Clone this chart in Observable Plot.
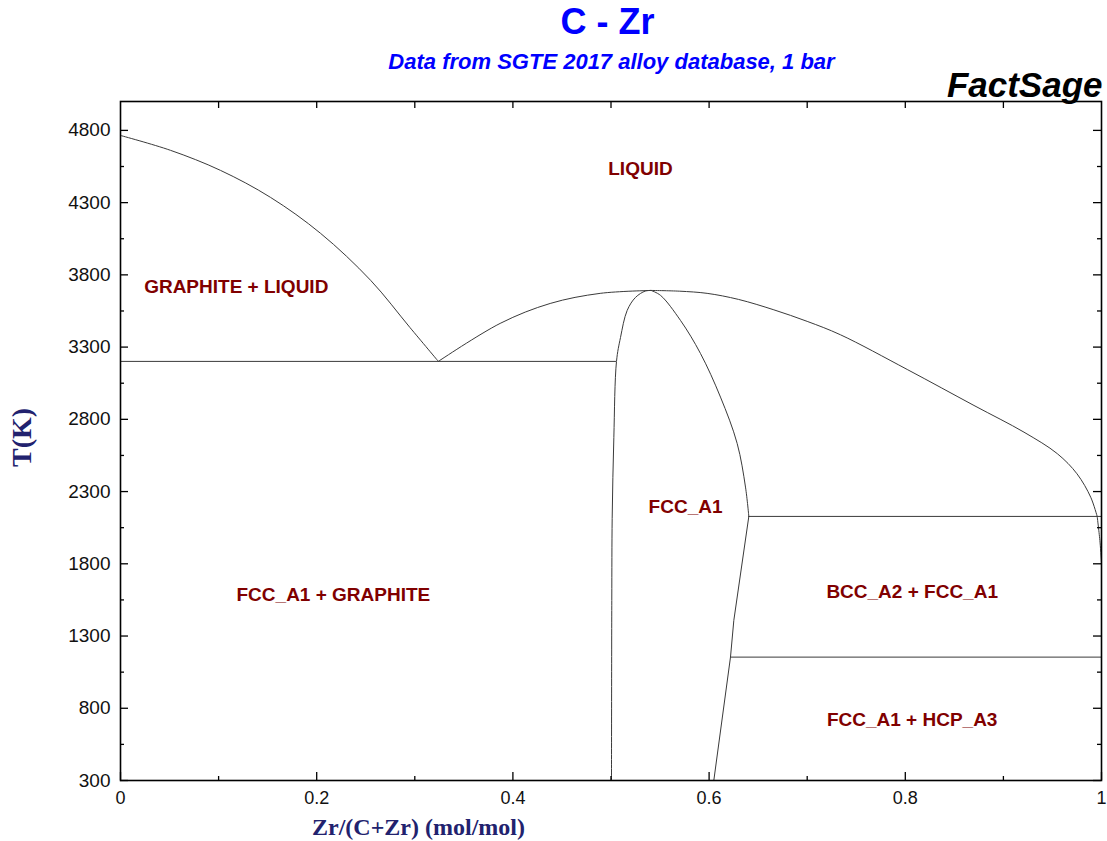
<!DOCTYPE html>
<html>
<head>
<meta charset="utf-8">
<script src="https://cdn.jsdelivr.net/npm/d3@7"></script>
<script src="https://cdn.jsdelivr.net/npm/@observablehq/plot@0.6"></script>
<style>
  body { margin: 0; background: #fff; }
  #chart svg { display: block; }
</style>
</head>
<body>
<div id="chart"></div>
<script>
// ---- data (x = Zr/(C+Zr) mol/mol, y = T in K) ----
const liquidusGraphite = [[0, 4765], [0.051, 4662], [0.102, 4523], [0.153, 4336], [0.204, 4087], [0.255, 3762], [0.295, 3436], [0.324, 3201]];
const liquidusFccLeft = [[0.324, 3201], [0.387, 3464], [0.438, 3602], [0.489, 3672], [0.541, 3692]];
const liquidusFccRight = [[0.541, 3692], [0.57, 3687], [0.598, 3672], [0.63, 3630], [0.666, 3558], [0.70, 3478], [0.734, 3385], [0.802, 3145], [0.870, 2896], [0.921, 2711], [0.955, 2562], [0.975, 2423], [0.989, 2261], [0.9956, 2128]];
const fccLeft = [[0.5005, 300], [0.5008, 1546], [0.5012, 2114], [0.5029, 2675], [0.5056, 3201], [0.5097, 3367], [0.5165, 3554], [0.525, 3644], [0.535, 3688], [0.541, 3692]];
const fccRightUpper = [[0.541, 3692], [0.5505, 3658], [0.5708, 3485], [0.5912, 3256], [0.6116, 2954], [0.6286, 2633], [0.6371, 2331], [0.6405, 2128]];
const fccRightLower = [[0.6405, 2128], [0.6252, 1408], [0.6218, 1154], [0.6048, 300]];
const bccSolvus = [[0.9956, 2128], [0.9985, 1950], [1.0, 1800]];
const invariants = [
  {t: 3201, x1: 0, x2: 0.5056},
  {t: 2128, x1: 0.6405, x2: 1.0},
  {t: 1154, x1: 0.6218, x2: 1.0}
];
const phaseLabels = [
  {x: 0.530, y: 4530, text: "LIQUID"},
  {x: 0.118, y: 3720, text: "GRAPHITE + LIQUID"},
  {x: 0.217, y: 1588, text: "FCC_A1 + GRAPHITE"},
  {x: 0.576, y: 2197, text: "FCC_A1"},
  {x: 0.807, y: 1602, text: "BCC_A2 + FCC_A1"},
  {x: 0.807, y: 722, text: "FCC_A1 + HCP_A3"}
];
const majorY = [300, 800, 1300, 1800, 2300, 2800, 3300, 3800, 4300, 4800];
const minorY = [550, 1050, 1550, 2050, 2550, 3050, 3550, 4050, 4550];
const majorX = [0, 0.2, 0.4, 0.6, 0.8, 1];
const minorX = [0.1, 0.3, 0.5, 0.7, 0.9];
const topX = [0.1, 0.2, 0.3, 0.4, 0.5, 0.6, 0.7, 0.8, 0.9];
const titleText = "C - Zr";
const subtitleText = "Data from SGTE 2017 alloy database, 1 bar";
const brandText = "FactSage";
const xLabelText = "Zr/(C+Zr) (mol/mol)";
const yLabelText = "T(K)";

// ---- layout ----
const W = 1107, H = 841;
const mL = 120, mR = 6, mT = 101, mB = 61;
const pw = W - mL - mR, ph = H - mT - mB;
const lineColor = "#3a3a3a";
const xy = {x: d => d[0], y: d => d[1]};

const chart = Plot.plot({
  width: W, height: H,
  marginLeft: mL, marginRight: mR, marginTop: mT, marginBottom: mB,
  style: {fontFamily: "'Liberation Sans', Arial, sans-serif", background: "#fff"},
  x: {domain: [0, 1]},
  y: {domain: [300, 5000]},
  marks: [
    // curves
    Plot.line(liquidusGraphite, {...xy, stroke: lineColor, strokeWidth: 1, curve: "catmull-rom"}),
    Plot.line(liquidusFccLeft, {...xy, stroke: lineColor, strokeWidth: 1, curve: "catmull-rom"}),
    Plot.line(liquidusFccRight, {...xy, stroke: lineColor, strokeWidth: 1, curve: "catmull-rom"}),
    Plot.line(fccLeft, {...xy, stroke: lineColor, strokeWidth: 1, curve: "catmull-rom"}),
    Plot.line(fccRightUpper, {...xy, stroke: lineColor, strokeWidth: 1, curve: "catmull-rom"}),
    Plot.line(fccRightLower, {...xy, stroke: lineColor, strokeWidth: 1, curve: "linear"}),
    Plot.line(bccSolvus, {...xy, stroke: lineColor, strokeWidth: 1, curve: "catmull-rom"}),
    Plot.ruleY(invariants, {y: "t", x1: "x1", x2: "x2", stroke: lineColor, strokeWidth: 1}),
    // phase labels
    Plot.text(phaseLabels, {x: "x", y: "y", text: "text", fill: "#800000", fontSize: 19, fontWeight: "bold"}),
    // ticks (inward)
    Plot.tickY(majorY, {y: d => d, insetRight: pw - 8, stroke: "#000", strokeWidth: 1.3}),
    Plot.tickY(minorY, {y: d => d, insetRight: pw - 4, stroke: "#000", strokeWidth: 1.3}),
    Plot.tickY(majorY, {y: d => d, insetLeft: pw - 8, stroke: "#000", strokeWidth: 1.3}),
    Plot.tickY(minorY, {y: d => d, insetLeft: pw - 4, stroke: "#000", strokeWidth: 1.3}),
    Plot.tickX(majorX, {x: d => d, insetTop: ph - 8, stroke: "#000", strokeWidth: 1.3}),
    Plot.tickX(minorX, {x: d => d, insetTop: ph - 4, stroke: "#000", strokeWidth: 1.3}),
    Plot.tickX(topX, {x: d => d, insetBottom: ph - 7, stroke: "#000", strokeWidth: 1.3}),
    // axes labels
    Plot.axisY({ticks: majorY, tickSize: 0, tickPadding: 10, fontSize: 19, label: null, tickFormat: d => String(d), color: "#111"}),
    Plot.axisX({ticks: majorX, tickSize: 0, tickPadding: 11, fontSize: 18, label: null, tickFormat: d => String(d), color: "#111"}),
    Plot.frame({stroke: "#000", strokeWidth: 1.6}),
    // titles & axis titles
    Plot.text([titleText], {frameAnchor: "top-left", dx: 607 - mL, dy: 33 - mT, lineAnchor: "bottom", textAnchor: "middle", text: d => d, fill: "#0000ff", fontSize: 36, fontWeight: "bold"}),
    Plot.text([subtitleText], {frameAnchor: "top-left", dx: 611 - mL, dy: 68 - mT, lineAnchor: "bottom", textAnchor: "middle", text: d => d, fill: "#0000ff", fontSize: 22, fontWeight: "bold", fontStyle: "italic"}),
    Plot.text([brandText], {frameAnchor: "top-right", dx: 1, dy: 96 - mT, lineAnchor: "bottom", textAnchor: "end", text: d => d, fill: "#000", fontSize: 35, fontWeight: "bold", fontStyle: "italic"}),
    Plot.text([xLabelText], {frameAnchor: "bottom-left", dx: 418 - mL, dy: 834 - (H - mB), lineAnchor: "bottom", textAnchor: "middle", text: d => d, fill: "#22226e", fontSize: 24, fontWeight: "bold", fontFamily: "'Liberation Serif', 'Times New Roman', serif"}),
    Plot.text([yLabelText], {frameAnchor: "top-left", dx: 22 - mL, dy: 437 - mT, rotate: -90, lineAnchor: "middle", textAnchor: "middle", text: d => d, fill: "#22226e", fontSize: 28, fontWeight: "bold", fontFamily: "'Liberation Serif', 'Times New Roman', serif"})
  ]
});
document.getElementById("chart").appendChild(chart);
</script>
</body>
</html>
